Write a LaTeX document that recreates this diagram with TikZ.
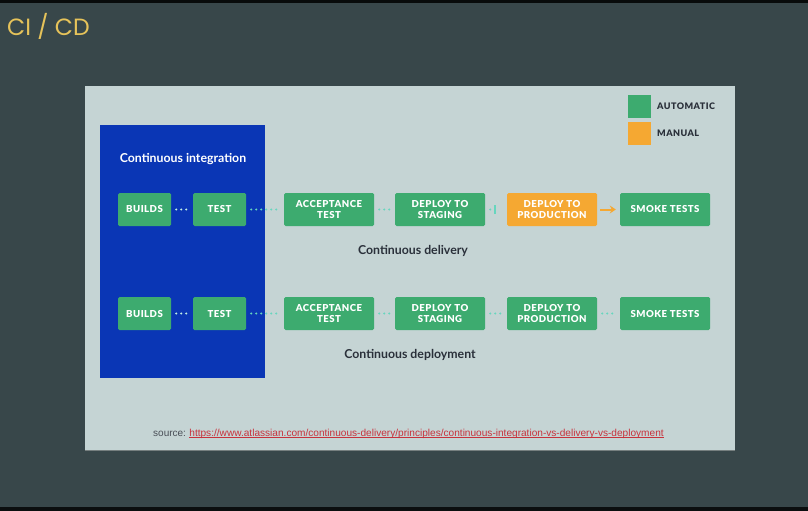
\documentclass[tikz,border=0pt]{standalone}
\usepackage{fontspec}
\setmainfont{Lato}
\newfontfamily\boxfont[LetterSpace=5]{Lato Black}
\newfontfamily\titlefont{Poppins}
\newfontfamily\arialfont{Liberation Sans}
\usetikzlibrary{arrows.meta}
\definecolor{bgdark}{HTML}{38474A}
\definecolor{panel}{HTML}{C5D4D4}
\definecolor{ciblue}{HTML}{0A36B5}
\definecolor{autogreen}{HTML}{3DAB6F}
\definecolor{manorange}{HTML}{F5A832}
\definecolor{dotteal}{HTML}{66D6BE}
\definecolor{txtdark}{HTML}{2A303A}
\definecolor{titleyellow}{HTML}{E6C35A}
\definecolor{linkred}{HTML}{C8323C}
\tikzset{
  stagebox/.style={fill=autogreen, rounded corners=1.5pt, minimum width=90pt, minimum height=33pt,
    inner sep=0pt, text=white, align=center, font=\boxfont\fontsize{9.6}{11.5}\selectfont},
  smallbox/.style={stagebox, minimum width=53pt},
  manualbox/.style={stagebox, fill=manorange},
  dotline/.style={dotteal, line width=2.2pt, line cap=round, dash pattern=on 0pt off 5pt},
  lbl/.style={text=txtdark, font=\fontsize{12.3}{14}\selectfont\bfseries},
}
\begin{document}
\begin{tikzpicture}[x=1pt,y=-1pt]
\useasboundingbox (0,0) rectangle (808,511);
\fill[bgdark] (0,0) rectangle (808,511);
\fill[black!85!bgdark] (0,0) rectangle (808,3);
\fill[black!80!bgdark] (0,507) rectangle (808,511);
\node[anchor=west, text=titleyellow, font=\titlefont\fontsize{23.5}{26}\selectfont, inner sep=0pt] (title) at (7,26) {CI / CD};
% panel
\fill[panel] (85,86) rectangle (735,450);
\draw[black!40!panel, line width=0.8pt] (85,450.5) -- (735,450.5);
% CI box
\fill[ciblue] (100,125) rectangle (265,378);
\node[text=white, font=\fontsize{12.3}{14}\selectfont\bfseries] (cititle) at (183,159) {Continuous integration};
% legend
\node[fill=autogreen, minimum size=23pt, inner sep=0pt] (legA) at (639.5,106.5) {};
\node[fill=manorange, minimum size=23pt, inner sep=0pt] (legM) at (639.5,133.5) {};
\node[anchor=west, text=txtdark, font=\boxfont\fontsize{9}{10}\selectfont, inner sep=0pt] (legAt) at (657,106) {AUTOMATIC};
\node[anchor=west, text=txtdark, font=\boxfont\fontsize{9}{10}\selectfont, inner sep=0pt] (legMt) at (657,133) {MANUAL};
% row 1
\node[smallbox] (b1) at (144.5,209.5) {BUILDS};
\node[smallbox] (t1) at (219.5,209.5) {TEST};
\node[stagebox] (a1) at (329,209.5) {ACCEPTANCE\\TEST};
\node[stagebox] (s1) at (440,209.5) {DEPLOY TO\\STAGING};
\node[manualbox] (p1) at (552,209.5) {DEPLOY TO\\PRODUCTION};
\node[stagebox] (k1) at (665,209.5) {SMOKE TESTS};
\draw[dotline, white!60!dotteal] ([xshift=5pt]b1.east) -- ([xshift=-2pt]t1.west);
\draw[dotline] ([xshift=5pt]t1.east) -- ([xshift=-3pt]a1.west);
\draw[dotline] ([xshift=5pt]a1.east) -- ([xshift=-3pt]s1.west);
\coordinate (gate) at (495,209.5);
\draw[dotline] ([xshift=5pt]s1.east) -- ([xshift=-2pt]gate);
\draw[dotteal, line width=1.8pt] ([yshift=-4.5pt]gate) -- ([yshift=4.5pt]gate);
\draw[manorange, line width=2pt, -{Stealth[length=6pt,width=8pt]}] ([xshift=3pt]p1.east) -- ([xshift=-4pt]k1.west);
\node[lbl] (cdel) at (413,251) {Continuous delivery};
% row 2
\node[smallbox] (b2) at (144.5,313.5) {BUILDS};
\node[smallbox] (t2) at (219.5,313.5) {TEST};
\node[stagebox] (a2) at (329,313.5) {ACCEPTANCE\\TEST};
\node[stagebox] (s2) at (440,313.5) {DEPLOY TO\\STAGING};
\node[stagebox] (p2) at (552,313.5) {DEPLOY TO\\PRODUCTION};
\node[stagebox] (k2) at (665,313.5) {SMOKE TESTS};
\draw[dotline, white!60!dotteal] ([xshift=5pt]b2.east) -- ([xshift=-2pt]t2.west);
\draw[dotline] ([xshift=5pt]t2.east) -- ([xshift=-3pt]a2.west);
\draw[dotline] ([xshift=5pt]a2.east) -- ([xshift=-3pt]s2.west);
\draw[dotline] ([xshift=5pt]s2.east) -- ([xshift=-3pt]p2.west);
\draw[dotline] ([xshift=5pt]p2.east) -- ([xshift=-3pt]k2.west);
\node[lbl] (cdep) at (410,355) {Continuous deployment};
% source
\node[anchor=base west, inner sep=0pt, text=txtdark!85, font=\arialfont\fontsize{10}{12}\selectfont] (srcl) at (153,436) {source:};
\node[anchor=base west, inner sep=0pt, text=linkred, font=\arialfont\fontsize{10.1}{12}\selectfont] (link) at ([xshift=3pt]srcl.base east)
  {https://www.atlassian.com/continuous-delivery/principles/continuous-integration-vs-delivery-vs-deployment};
\draw[linkred, line width=0.7pt] ([yshift=-1.6pt]link.base west) -- ([yshift=-1.6pt]link.base east);
\end{tikzpicture}
\end{document}
